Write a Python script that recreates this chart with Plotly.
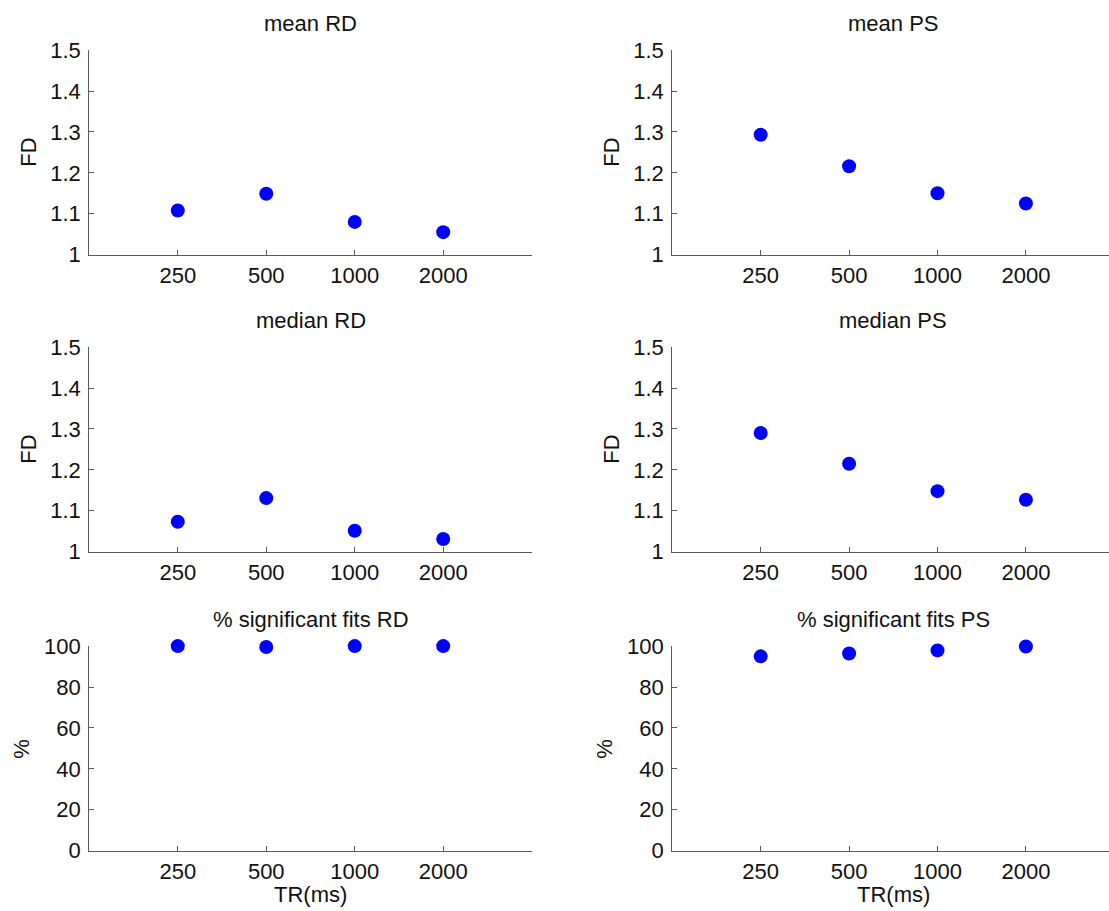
import plotly.graph_objects as go

# Repetition time conditions (ms)
TR_MS = ["250", "500", "1000", "2000"]

# Fractal dimension estimates
MEAN_RD = [1.108, 1.149, 1.080, 1.055]
MEAN_PS = [1.293, 1.216, 1.150, 1.125]
MEDIAN_RD = [1.073, 1.131, 1.051, 1.031]
MEDIAN_PS = [1.290, 1.215, 1.148, 1.127]

# Percentage of significant fits
SIG_RD = [100.0, 99.6, 100.0, 100.0]
SIG_PS = [95.0, 96.4, 97.9, 99.8]

PANEL_TITLES = ["mean RD", "mean PS", "median RD", "median PS",
                "% significant fits RD", "% significant fits PS"]
PANEL_DATA = [MEAN_RD, MEAN_PS, MEDIAN_RD, MEDIAN_PS, SIG_RD, SIG_PS]
Y_LABELS = ["FD", "FD", "FD", "FD", "%", "%"]

W, H = 1109, 911
FONT = "Liberation Sans, Arial, Helvetica, sans-serif"
TXT = "#111111"
AX = "#5a5a5a"

# column domains in pixels (left, right) and row domains (top, bottom)
col_px = [(89.3, 531.7), (672.3, 1109.0)]
col_range = [[-1, 4], [-1, -1 + 5 * (1109.0 - 672.3) / (1114.3 - 672.3)]]
row_px = [(39.2, 249.5), (344.6, 554.9), (652.0, 862.3)]

fig = go.Figure()
annotations = []

for i in range(6):
    r, c = divmod(i, 2)
    n = i + 1
    xa = "x" if n == 1 else f"x{n}"
    ya = "y" if n == 1 else f"y{n}"
    fig.add_trace(go.Scatter(
        x=TR_MS, y=PANEL_DATA[i], mode="markers",
        marker=dict(size=14, color="#0000ff", line=dict(width=0)),
        cliponaxis=False, showlegend=False,
        xaxis=xa, yaxis=ya,
    ))
    x0, x1 = col_px[c]
    y0, y1 = row_px[r]
    xkey = "xaxis" if n == 1 else f"xaxis{n}"
    ykey = "yaxis" if n == 1 else f"yaxis{n}"
    fig.update_layout({
        xkey: dict(
            domain=[x0 / W, x1 / W], anchor=ya, type="category",
            categoryorder="array", categoryarray=TR_MS,
            range=col_range[c], showline=True, linecolor=AX, linewidth=1.2,
            ticks="inside", ticklen=5, tickcolor=AX, tickwidth=1,
            showgrid=False, zeroline=False,
            tickfont=dict(family=FONT, size=22, color=TXT),
            ticklabelstandoff=1,
        ),
        ykey: dict(
            domain=[1 - y1 / H, 1 - y0 / H], anchor=xa,
            range=[1, 1.5] if r < 2 else [0, 100],
            dtick=0.1 if r < 2 else 20, tick0=0,
            showline=True, linecolor=AX, linewidth=1.2,
            ticks="inside", ticklen=5, tickcolor=AX, tickwidth=1,
            showgrid=False, zeroline=False,
            tickfont=dict(family=FONT, size=22, color=TXT),
            ticklabelstandoff=3,
        ),
    })
    # panel title
    annotations.append(dict(
        text=PANEL_TITLES[i], xref=xa, x=1.5, yref=f"{ya} domain", y=1,
        yanchor="middle", xanchor="center", yshift=26.2, showarrow=False,
        font=dict(family=FONT, size=22, color=TXT),
    ))
    # y-axis label
    annotations.append(dict(
        text=Y_LABELS[i], xref=f"{xa} domain", x=0, yref=f"{ya} domain", y=0.5,
        xanchor="center", yanchor="middle", xshift=-61 if r < 2 else -68,
        textangle=-90, showarrow=False,
        font=dict(family=FONT, size=22, color=TXT),
    ))
    if r == 2:
        annotations.append(dict(
            text="TR(ms)", xref=xa, x=1.5, yref=f"{ya} domain", y=0,
            xanchor="center", yanchor="middle", yshift=-44.2, showarrow=False,
            font=dict(family=FONT, size=22, color=TXT),
        ))

fig.update_layout(
    width=W, height=H, margin=dict(l=0, r=0, t=0, b=0),
    paper_bgcolor="white", plot_bgcolor="white",
    annotations=annotations,
)

# keep the page flush with the figure
fig.write_html(
    "out.html",
    post_script="document.body.style.margin='0';document.body.style.padding='0';",
)
